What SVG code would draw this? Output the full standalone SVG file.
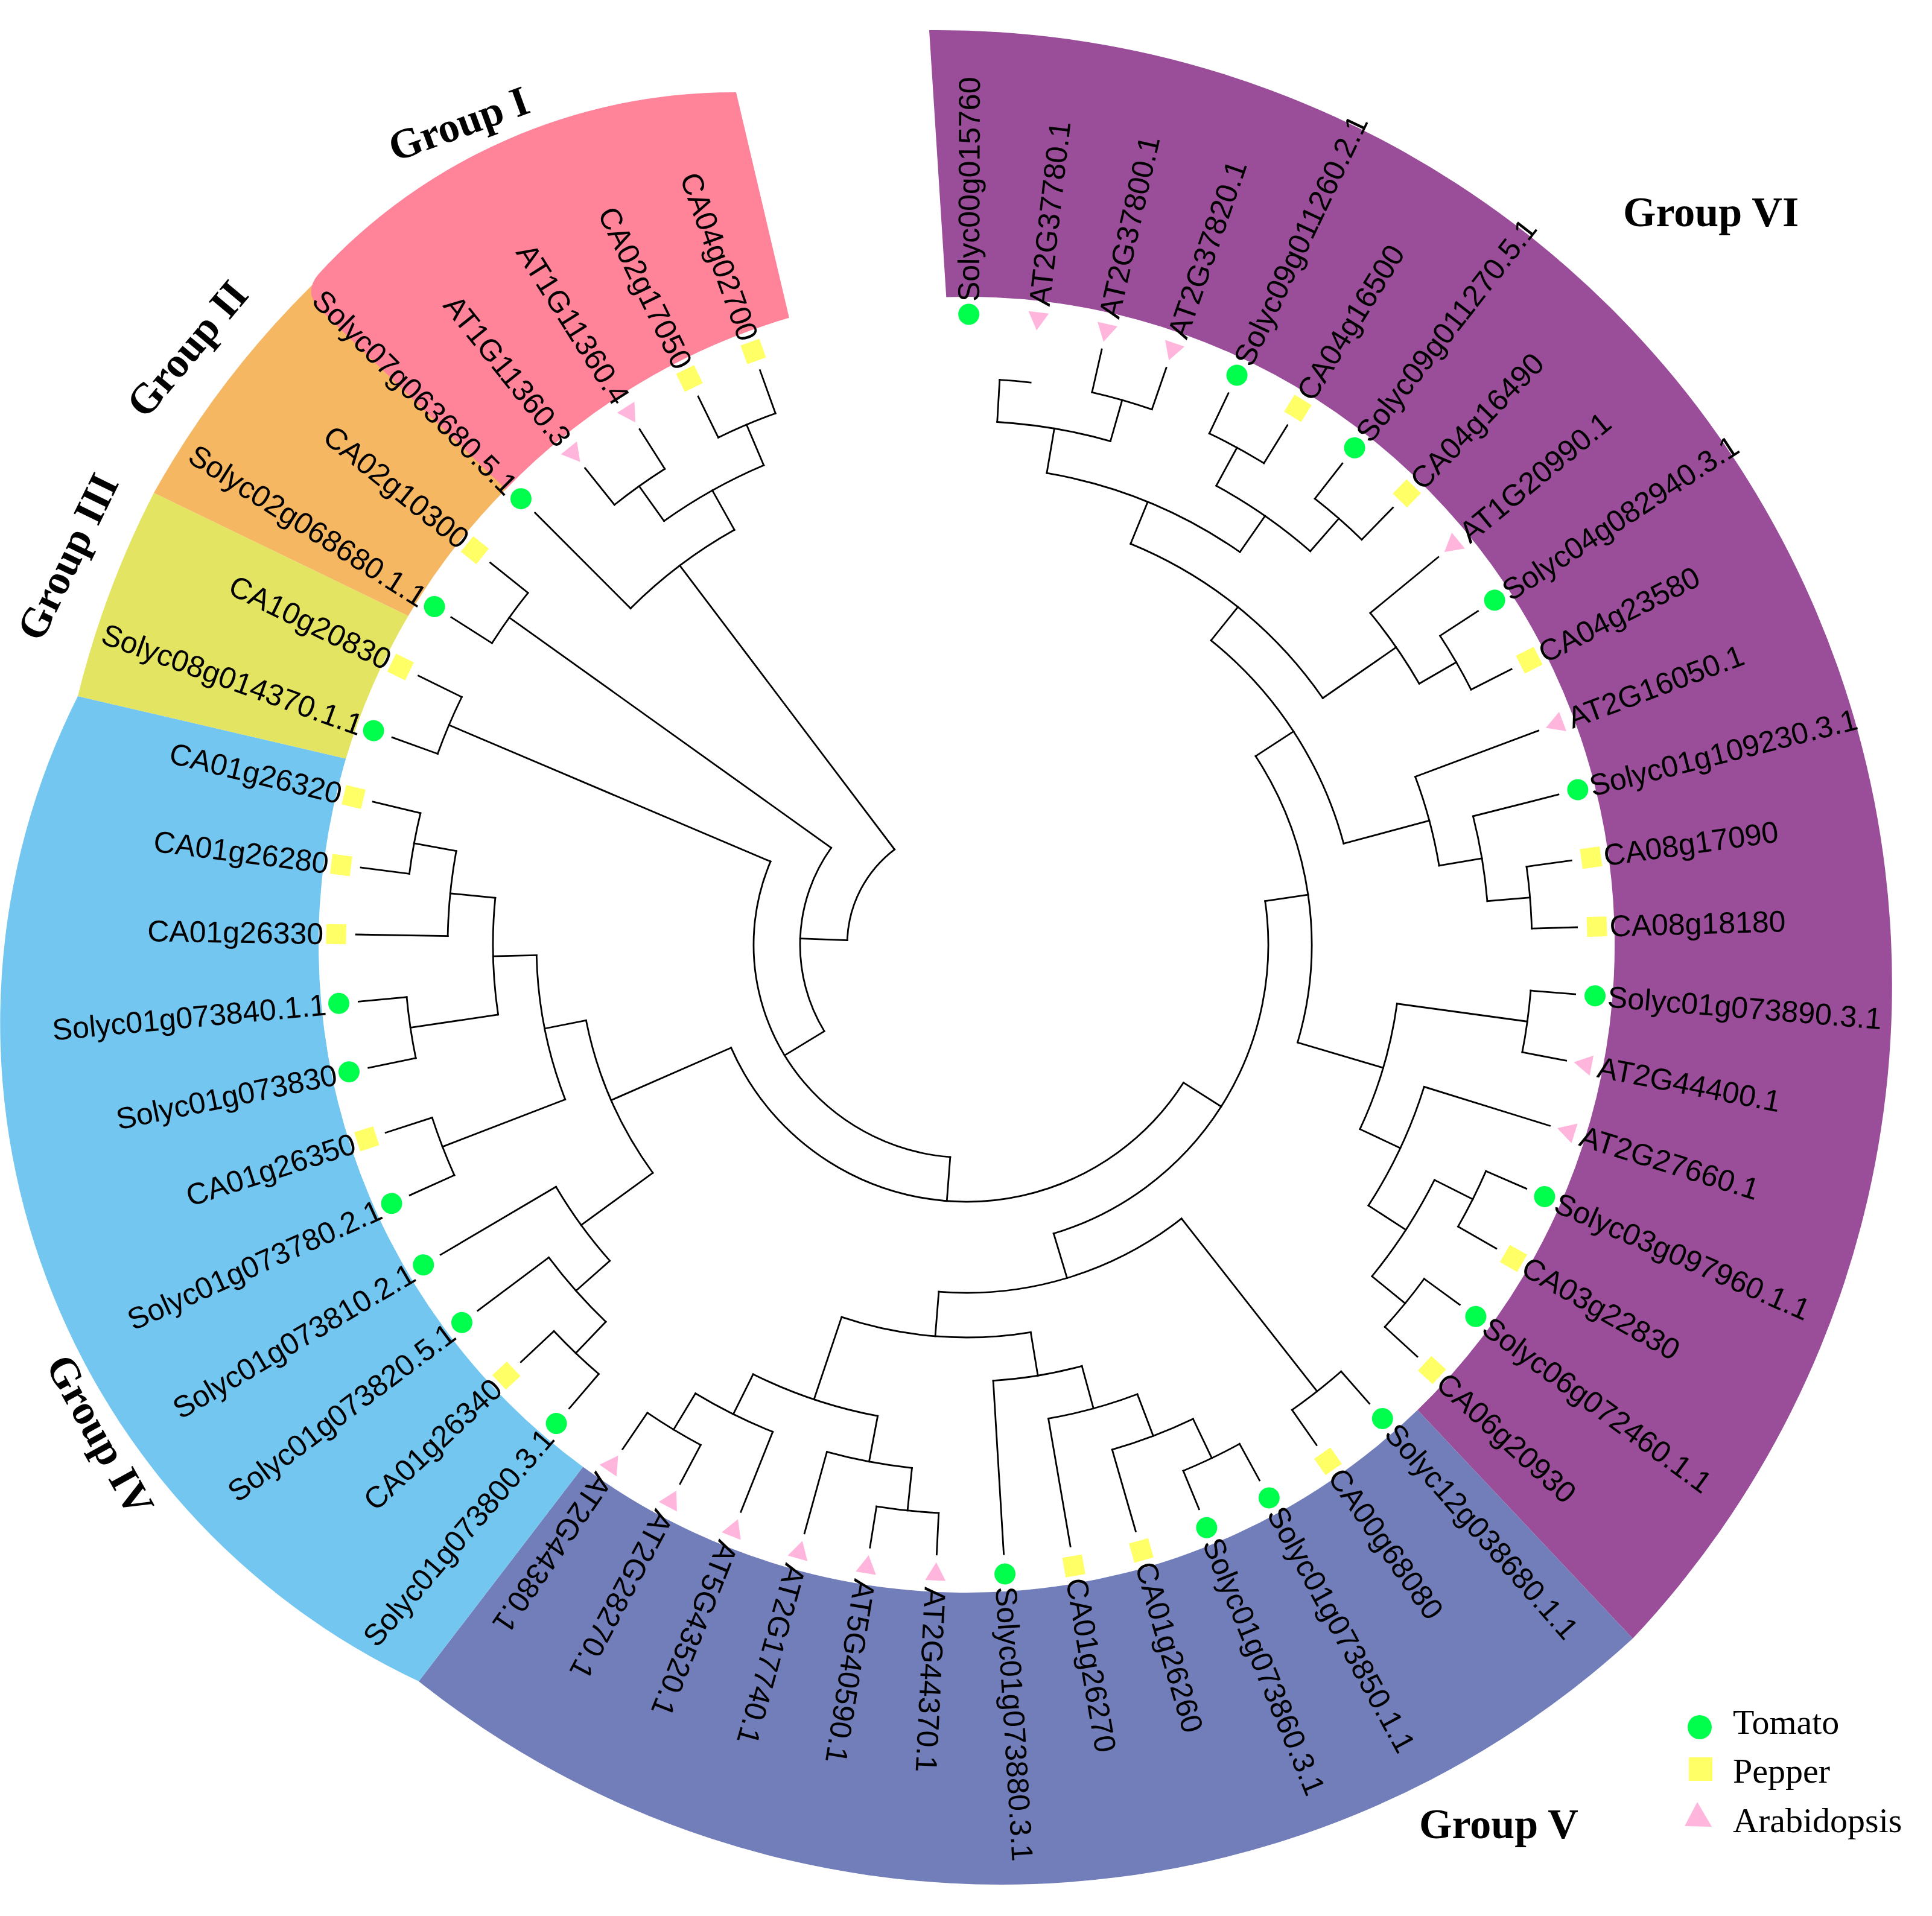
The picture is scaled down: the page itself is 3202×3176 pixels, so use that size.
<svg xmlns="http://www.w3.org/2000/svg" width="3202" height="3176" viewBox="0 0 3202 3176">
<style>
.lb{font-family:"Liberation Sans",Arial,sans-serif;font-size:50px;fill:#000;dominant-baseline:central}
.e{text-anchor:end}
.gl{font-family:"Liberation Serif","Times New Roman",serif;font-size:70px;font-weight:bold;fill:#000}
.lg{font-family:"Liberation Serif","Times New Roman",serif;font-size:58px;fill:#000}
#tree path,#tree circle{fill:none;stroke:#000;stroke-width:2.8;stroke-linecap:square}
</style>
<defs>
<circle id="T" r="17.5" fill="#00FF4C"/>
<rect id="P" x="-16.5" y="-16.5" width="33" height="33" fill="#FFFF66"/>
<path id="A" d="M0 20L-17 -10L17 -10Z" fill="#FFB5DC"/>
</defs>
<rect width="3202" height="3176" fill="#fff"/>
<g id="bands">
<path id="band-VI" fill="#9A4D99" d="M1540 50A1582 1582 0 0 1 2706 2716L2349.4 2337.3A1074 1074 0 0 0 1568.3 492.5Z"/>
<path id="band-V" fill="#717EBA" d="M2706 2716A1549 1549 0 0 1 694 2787L966.2 2431.6A1074 1074 0 0 0 2349.4 2337.3Z"/>
<path id="band-IV" fill="#73C6F0" d="M694 2787A1205 1205 0 0 1 129 1154L573.3 1257.4A1074 1074 0 0 0 966.2 2431.6Z"/>
<path id="band-III" fill="#E2E462" d="M129 1154A1535 1535 0 0 1 255 817L676.6 1020.9A1074 1074 0 0 0 573.3 1257.4Z"/>
<path id="band-II" fill="#F5B762" d="M255 817A1535 1535 0 0 1 520 470L838.2 811A1074 1074 0 0 0 676.6 1020.9Z"/>
<path id="band-I" fill="#FF8399" d="M838.2 811L530.7 512.9Q502 485 527.8 454.4A934 934 0 0 1 1220 153L1307.9 526.8A1077 1077 0 0 0 838.2 811Z"/>
</g>
<g id="tree">
<path d="M1602 627V554" transform="rotate(12.79 1602 1566)"/>
<path d="M1602 627V554" transform="rotate(19.09 1602 1566)"/>
<path d="M1602 698V627" transform="rotate(15.94 1602 1566)"/>
<path d="M1602 698V628" transform="rotate(3.35 1602 1566)"/>
<path d="M1602 773V698" transform="rotate(9.645 1602 1566)"/>
<path d="M1602 628V554" transform="rotate(25.39 1602 1566)"/>
<path d="M1602 628V554" transform="rotate(31.69 1602 1566)"/>
<path d="M1602 700V628" transform="rotate(28.54 1602 1566)"/>
<path d="M1602 628V554" transform="rotate(37.98 1602 1566)"/>
<path d="M1602 628V554" transform="rotate(44.28 1602 1566)"/>
<path d="M1602 700V628" transform="rotate(41.13 1602 1566)"/>
<path d="M1602 773V700" transform="rotate(34.835 1602 1566)"/>
<path d="M1602 848V773" transform="rotate(22.24 1602 1566)"/>
<path d="M1602 700V554" transform="rotate(50.58 1602 1566)"/>
<path d="M1602 629V554" transform="rotate(56.87 1602 1566)"/>
<path d="M1602 629V554" transform="rotate(63.17 1602 1566)"/>
<path d="M1602 700V629" transform="rotate(60.02 1602 1566)"/>
<path d="M1602 848V700" transform="rotate(55.3 1602 1566)"/>
<path d="M1602 919V848" transform="rotate(38.77 1602 1566)"/>
<path d="M1602 772V554" transform="rotate(69.47 1602 1566)"/>
<path d="M1602 700V554" transform="rotate(75.76 1602 1566)"/>
<path d="M1602 629V554" transform="rotate(82.06 1602 1566)"/>
<path d="M1602 629V554" transform="rotate(88.36 1602 1566)"/>
<path d="M1602 700V629" transform="rotate(85.21 1602 1566)"/>
<path d="M1602 772V700" transform="rotate(80.49 1602 1566)"/>
<path d="M1602 919V772" transform="rotate(74.98 1602 1566)"/>
<path d="M1602 994V919" transform="rotate(56.875 1602 1566)"/>
<path d="M1602 628V554" transform="rotate(94.65 1602 1566)"/>
<path d="M1602 628V554" transform="rotate(100.95 1602 1566)"/>
<path d="M1602 846V628" transform="rotate(97.8 1602 1566)"/>
<path d="M1602 772V554" transform="rotate(107.25 1602 1566)"/>
<path d="M1602 627V554" transform="rotate(113.55 1602 1566)"/>
<path d="M1602 627V554" transform="rotate(119.84 1602 1566)"/>
<path d="M1602 698V627" transform="rotate(116.695 1602 1566)"/>
<path d="M1602 627V554" transform="rotate(126.14 1602 1566)"/>
<path d="M1602 627V554" transform="rotate(132.43 1602 1566)"/>
<path d="M1602 698V627" transform="rotate(129.285 1602 1566)"/>
<path d="M1602 772V698" transform="rotate(122.99 1602 1566)"/>
<path d="M1602 846V772" transform="rotate(115.12 1602 1566)"/>
<path d="M1602 994V846" transform="rotate(106.46 1602 1566)"/>
<path d="M1602 1066V994" transform="rotate(81.67 1602 1566)"/>
<path d="M1602 625V554" transform="rotate(138.73 1602 1566)"/>
<path d="M1602 625V554" transform="rotate(145.03 1602 1566)"/>
<path d="M1602 989V625" transform="rotate(141.88 1602 1566)"/>
<path d="M1602 623V554" transform="rotate(151.33 1602 1566)"/>
<path d="M1602 623V554" transform="rotate(157.62 1602 1566)"/>
<path d="M1602 695V623" transform="rotate(154.475 1602 1566)"/>
<path d="M1602 695V554" transform="rotate(163.92 1602 1566)"/>
<path d="M1602 769V695" transform="rotate(159.2 1602 1566)"/>
<path d="M1602 769V554" transform="rotate(170.21 1602 1566)"/>
<path d="M1602 842V769" transform="rotate(164.7 1602 1566)"/>
<path d="M1602 842V554" transform="rotate(176.51 1602 1566)"/>
<path d="M1602 915V842" transform="rotate(170.61 1602 1566)"/>
<path d="M1602 623V554" transform="rotate(182.81 1602 1566)"/>
<path d="M1602 623V554" transform="rotate(189.11 1602 1566)"/>
<path d="M1602 694V623" transform="rotate(185.96 1602 1566)"/>
<path d="M1602 694V554" transform="rotate(195.4 1602 1566)"/>
<path d="M1602 771V694" transform="rotate(190.68 1602 1566)"/>
<path d="M1602 697V554" transform="rotate(201.7 1602 1566)"/>
<path d="M1602 627V554" transform="rotate(207.99 1602 1566)"/>
<path d="M1602 627V554" transform="rotate(214.29 1602 1566)"/>
<path d="M1602 697V627" transform="rotate(211.14 1602 1566)"/>
<path d="M1602 771V697" transform="rotate(206.42 1602 1566)"/>
<path d="M1602 915V771" transform="rotate(198.55 1602 1566)"/>
<path d="M1602 989V915" transform="rotate(184.58 1602 1566)"/>
<path d="M1602 1066V989" transform="rotate(163.23 1602 1566)"/>
<path d="M1602 1140V1066" transform="rotate(122.45 1602 1566)"/>
<path d="M1602 629V554" transform="rotate(220.59 1602 1566)"/>
<path d="M1602 629V554" transform="rotate(226.88 1602 1566)"/>
<path d="M1602 701V629" transform="rotate(223.735 1602 1566)"/>
<path d="M1602 701V554" transform="rotate(233.18 1602 1566)"/>
<path d="M1602 776V701" transform="rotate(228.46 1602 1566)"/>
<path d="M1602 776V554" transform="rotate(239.48 1602 1566)"/>
<path d="M1602 923V776" transform="rotate(233.97 1602 1566)"/>
<path d="M1602 635V554" transform="rotate(245.77 1602 1566)"/>
<path d="M1602 635V554" transform="rotate(252.07 1602 1566)"/>
<path d="M1602 853V635" transform="rotate(248.92 1602 1566)"/>
<path d="M1602 634V554" transform="rotate(258.37 1602 1566)"/>
<path d="M1602 634V554" transform="rotate(264.66 1602 1566)"/>
<path d="M1602 781V634" transform="rotate(261.515 1602 1566)"/>
<path d="M1602 706V554" transform="rotate(270.96 1602 1566)"/>
<path d="M1602 635V554" transform="rotate(277.26 1602 1566)"/>
<path d="M1602 635V554" transform="rotate(283.55 1602 1566)"/>
<path d="M1602 706V635" transform="rotate(280.405 1602 1566)"/>
<path d="M1602 781V706" transform="rotate(275.68 1602 1566)"/>
<path d="M1602 853V781" transform="rotate(268.6 1602 1566)"/>
<path d="M1602 923V853" transform="rotate(258.76 1602 1566)"/>
<path d="M1602 1140V923" transform="rotate(246.37 1602 1566)"/>
<path d="M1602 1213V1140" transform="rotate(184.41 1602 1566)"/>
<path d="M1602 634V554" transform="rotate(289.85 1602 1566)"/>
<path d="M1602 634V554" transform="rotate(296.14 1602 1566)"/>
<path d="M1602 1213V634" transform="rotate(293 1602 1566)"/>
<path d="M1602 1290V1213" transform="rotate(238.7 1602 1566)"/>
<path d="M1602 634V554" transform="rotate(302.44 1602 1566)"/>
<path d="M1602 634V554" transform="rotate(308.74 1602 1566)"/>
<path d="M1602 1290V634" transform="rotate(305.59 1602 1566)"/>
<path d="M1602 1368V1290" transform="rotate(272.15 1602 1566)"/>
<path d="M1602 632V554" transform="rotate(321.33 1602 1566)"/>
<path d="M1602 632V554" transform="rotate(327.62 1602 1566)"/>
<path d="M1602 703V632" transform="rotate(324.475 1602 1566)"/>
<path d="M1602 630V554" transform="rotate(333.92 1602 1566)"/>
<path d="M1602 630V554" transform="rotate(340.22 1602 1566)"/>
<path d="M1602 703V630" transform="rotate(337.07 1602 1566)"/>
<path d="M1602 778V703" transform="rotate(330.77 1602 1566)"/>
<path d="M1602 778V554" transform="rotate(315.03 1602 1566)"/>
<path d="M1602 1368V778" transform="rotate(322.9 1602 1566)"/>
<circle cx="1602" cy="1566" r="938" stroke-dasharray="51.57 9999" transform="rotate(-86.65 1602 1566)"/>
<circle cx="1602" cy="1566" r="939" stroke-dasharray="103.25 9999" transform="rotate(-77.21 1602 1566)"/>
<circle cx="1602" cy="1566" r="868" stroke-dasharray="190.73 9999" transform="rotate(-86.65 1602 1566)"/>
<circle cx="1602" cy="1566" r="938" stroke-dasharray="103.14 9999" transform="rotate(-64.61 1602 1566)"/>
<circle cx="1602" cy="1566" r="938" stroke-dasharray="103.14 9999" transform="rotate(-52.02 1602 1566)"/>
<circle cx="1602" cy="1566" r="866" stroke-dasharray="190.29 9999" transform="rotate(-61.46 1602 1566)"/>
<circle cx="1602" cy="1566" r="793" stroke-dasharray="348.65 9999" transform="rotate(-80.355 1602 1566)"/>
<circle cx="1602" cy="1566" r="937" stroke-dasharray="103.03 9999" transform="rotate(-33.13 1602 1566)"/>
<circle cx="1602" cy="1566" r="866" stroke-dasharray="142.68 9999" transform="rotate(-39.42 1602 1566)"/>
<circle cx="1602" cy="1566" r="718" stroke-dasharray="414.29 9999" transform="rotate(-67.76 1602 1566)"/>
<circle cx="1602" cy="1566" r="937" stroke-dasharray="103.03 9999" transform="rotate(-7.94 1602 1566)"/>
<circle cx="1602" cy="1566" r="866" stroke-dasharray="142.83 9999" transform="rotate(-14.24 1602 1566)"/>
<circle cx="1602" cy="1566" r="794" stroke-dasharray="152.71 9999" transform="rotate(-20.53 1602 1566)"/>
<circle cx="1602" cy="1566" r="647" stroke-dasharray="408.84 9999" transform="rotate(-51.23 1602 1566)"/>
<circle cx="1602" cy="1566" r="938" stroke-dasharray="103.14 9999" transform="rotate(4.65 1602 1566)"/>
<circle cx="1602" cy="1566" r="939" stroke-dasharray="103.08 9999" transform="rotate(23.55 1602 1566)"/>
<circle cx="1602" cy="1566" r="939" stroke-dasharray="103.08 9999" transform="rotate(36.14 1602 1566)"/>
<circle cx="1602" cy="1566" r="868" stroke-dasharray="190.73 9999" transform="rotate(26.695 1602 1566)"/>
<circle cx="1602" cy="1566" r="794" stroke-dasharray="218.12 9999" transform="rotate(17.25 1602 1566)"/>
<circle cx="1602" cy="1566" r="720" stroke-dasharray="217.65 9999" transform="rotate(7.8 1602 1566)"/>
<circle cx="1602" cy="1566" r="572" stroke-dasharray="495.02 9999" transform="rotate(-33.125 1602 1566)"/>
<circle cx="1602" cy="1566" r="941" stroke-dasharray="103.47 9999" transform="rotate(48.73 1602 1566)"/>
<circle cx="1602" cy="1566" r="943" stroke-dasharray="103.52 9999" transform="rotate(61.33 1602 1566)"/>
<circle cx="1602" cy="1566" r="871" stroke-dasharray="143.58 9999" transform="rotate(64.475 1602 1566)"/>
<circle cx="1602" cy="1566" r="797" stroke-dasharray="153.15 9999" transform="rotate(69.2 1602 1566)"/>
<circle cx="1602" cy="1566" r="724" stroke-dasharray="149.23 9999" transform="rotate(74.7 1602 1566)"/>
<circle cx="1602" cy="1566" r="943" stroke-dasharray="103.69 9999" transform="rotate(92.81 1602 1566)"/>
<circle cx="1602" cy="1566" r="872" stroke-dasharray="143.67 9999" transform="rotate(95.96 1602 1566)"/>
<circle cx="1602" cy="1566" r="939" stroke-dasharray="103.25 9999" transform="rotate(117.99 1602 1566)"/>
<circle cx="1602" cy="1566" r="869" stroke-dasharray="143.18 9999" transform="rotate(111.7 1602 1566)"/>
<circle cx="1602" cy="1566" r="795" stroke-dasharray="218.4 9999" transform="rotate(100.68 1602 1566)"/>
<circle cx="1602" cy="1566" r="651" stroke-dasharray="317.46 9999" transform="rotate(80.61 1602 1566)"/>
<circle cx="1602" cy="1566" r="577" stroke-dasharray="430.01 9999" transform="rotate(51.88 1602 1566)"/>
<circle cx="1602" cy="1566" r="500" stroke-dasharray="711.75 9999" transform="rotate(-8.33 1602 1566)"/>
<circle cx="1602" cy="1566" r="937" stroke-dasharray="102.86 9999" transform="rotate(130.59 1602 1566)"/>
<circle cx="1602" cy="1566" r="865" stroke-dasharray="142.59 9999" transform="rotate(133.735 1602 1566)"/>
<circle cx="1602" cy="1566" r="790" stroke-dasharray="151.94 9999" transform="rotate(138.46 1602 1566)"/>
<circle cx="1602" cy="1566" r="931" stroke-dasharray="102.37 9999" transform="rotate(155.77 1602 1566)"/>
<circle cx="1602" cy="1566" r="932" stroke-dasharray="102.32 9999" transform="rotate(168.37 1602 1566)"/>
<circle cx="1602" cy="1566" r="931" stroke-dasharray="102.21 9999" transform="rotate(187.26 1602 1566)"/>
<circle cx="1602" cy="1566" r="860" stroke-dasharray="141.77 9999" transform="rotate(180.96 1602 1566)"/>
<circle cx="1602" cy="1566" r="785" stroke-dasharray="194.07 9999" transform="rotate(171.515 1602 1566)"/>
<circle cx="1602" cy="1566" r="713" stroke-dasharray="244.9 9999" transform="rotate(158.92 1602 1566)"/>
<circle cx="1602" cy="1566" r="643" stroke-dasharray="278.2 9999" transform="rotate(143.97 1602 1566)"/>
<circle cx="1602" cy="1566" r="426" stroke-dasharray="921.36 9999" transform="rotate(32.45 1602 1566)"/>
<circle cx="1602" cy="1566" r="932" stroke-dasharray="102.32 9999" transform="rotate(199.85 1602 1566)"/>
<circle cx="1602" cy="1566" r="353" stroke-dasharray="669.03 9999" transform="rotate(94.41 1602 1566)"/>
<circle cx="1602" cy="1566" r="932" stroke-dasharray="102.48 9999" transform="rotate(212.44 1602 1566)"/>
<circle cx="1602" cy="1566" r="276" stroke-dasharray="322.22 9999" transform="rotate(148.7 1602 1566)"/>
<circle cx="1602" cy="1566" r="934" stroke-dasharray="102.54 9999" transform="rotate(231.33 1602 1566)"/>
<circle cx="1602" cy="1566" r="936" stroke-dasharray="102.92 9999" transform="rotate(243.92 1602 1566)"/>
<circle cx="1602" cy="1566" r="863" stroke-dasharray="189.71 9999" transform="rotate(234.475 1602 1566)"/>
<circle cx="1602" cy="1566" r="788" stroke-dasharray="216.47 9999" transform="rotate(225.03 1602 1566)"/>
<circle cx="1602" cy="1566" r="198" stroke-dasharray="175.38 9999" transform="rotate(182.15 1602 1566)"/>
</g>
<g id="leaves">
<g id="Solyc00g015760"><use href="#T" x="1602" y="521" transform="rotate(0.2 1602 1566)"/><text class="lb" x="2668" y="1566" transform="rotate(-89.8 1602 1566)">Solyc00g015760</text></g>
<g id="AT2G37780_1"><use href="#A" x="1602" y="521" transform="rotate(6.5 1602 1566)"/><text class="lb" x="2668" y="1566" transform="rotate(-83.5 1602 1566)">AT2G37780.1</text></g>
<g id="AT2G37800_1"><use href="#A" x="1602" y="521" transform="rotate(12.79 1602 1566)"/><text class="lb" x="2668" y="1566" transform="rotate(-77.21 1602 1566)">AT2G37800.1</text></g>
<g id="AT2G37820_1"><use href="#A" x="1602" y="521" transform="rotate(19.09 1602 1566)"/><text class="lb" x="2668" y="1566" transform="rotate(-70.91 1602 1566)">AT2G37820.1</text></g>
<g id="Solyc09g011260_2_1"><use href="#T" x="1602" y="521" transform="rotate(25.39 1602 1566)"/><text class="lb" x="2668" y="1566" transform="rotate(-64.61 1602 1566)">Solyc09g011260.2.1</text></g>
<g id="CA04g16500"><use href="#P" x="1602" y="521" transform="rotate(31.69 1602 1566)"/><text class="lb" x="2668" y="1566" transform="rotate(-58.31 1602 1566)">CA04g16500</text></g>
<g id="Solyc09g011270_5_1"><use href="#T" x="1602" y="521" transform="rotate(37.98 1602 1566)"/><text class="lb" x="2668" y="1566" transform="rotate(-52.02 1602 1566)">Solyc09g011270.5.1</text></g>
<g id="CA04g16490"><use href="#P" x="1602" y="521" transform="rotate(44.28 1602 1566)"/><text class="lb" x="2668" y="1566" transform="rotate(-45.72 1602 1566)">CA04g16490</text></g>
<g id="AT1G20990_1"><use href="#A" x="1602" y="521" transform="rotate(50.58 1602 1566)"/><text class="lb" x="2668" y="1566" transform="rotate(-39.42 1602 1566)">AT1G20990.1</text></g>
<g id="Solyc04g082940_3_1"><use href="#T" x="1602" y="521" transform="rotate(56.87 1602 1566)"/><text class="lb" x="2668" y="1566" transform="rotate(-33.13 1602 1566)">Solyc04g082940.3.1</text></g>
<g id="CA04g23580"><use href="#P" x="1602" y="521" transform="rotate(63.17 1602 1566)"/><text class="lb" x="2668" y="1566" transform="rotate(-26.83 1602 1566)">CA04g23580</text></g>
<g id="AT2G16050_1"><use href="#A" x="1602" y="521" transform="rotate(69.47 1602 1566)"/><text class="lb" x="2668" y="1566" transform="rotate(-20.53 1602 1566)">AT2G16050.1</text></g>
<g id="Solyc01g109230_3_1"><use href="#T" x="1602" y="521" transform="rotate(75.76 1602 1566)"/><text class="lb" x="2668" y="1566" transform="rotate(-14.24 1602 1566)">Solyc01g109230.3.1</text></g>
<g id="CA08g17090"><use href="#P" x="1602" y="521" transform="rotate(82.06 1602 1566)"/><text class="lb" x="2668" y="1566" transform="rotate(-7.94 1602 1566)">CA08g17090</text></g>
<g id="CA08g18180"><use href="#P" x="1602" y="521" transform="rotate(88.36 1602 1566)"/><text class="lb" x="2668" y="1566" transform="rotate(-1.64 1602 1566)">CA08g18180</text></g>
<g id="Solyc01g073890_3_1"><use href="#T" x="1602" y="521" transform="rotate(94.65 1602 1566)"/><text class="lb" x="2668" y="1566" transform="rotate(4.65 1602 1566)">Solyc01g073890.3.1</text></g>
<g id="AT2G44400_1"><use href="#A" x="1602" y="521" transform="rotate(100.95 1602 1566)"/><text class="lb" x="2668" y="1566" transform="rotate(10.95 1602 1566)">AT2G44400.1</text></g>
<g id="AT2G27660_1"><use href="#A" x="1602" y="521" transform="rotate(107.25 1602 1566)"/><text class="lb" x="2668" y="1566" transform="rotate(17.25 1602 1566)">AT2G27660.1</text></g>
<g id="Solyc03g097960_1_1"><use href="#T" x="1602" y="521" transform="rotate(113.55 1602 1566)"/><text class="lb" x="2668" y="1566" transform="rotate(23.55 1602 1566)">Solyc03g097960.1.1</text></g>
<g id="CA03g22830"><use href="#P" x="1602" y="521" transform="rotate(119.84 1602 1566)"/><text class="lb" x="2668" y="1566" transform="rotate(29.84 1602 1566)">CA03g22830</text></g>
<g id="Solyc06g072460_1_1"><use href="#T" x="1602" y="521" transform="rotate(126.14 1602 1566)"/><text class="lb" x="2668" y="1566" transform="rotate(36.14 1602 1566)">Solyc06g072460.1.1</text></g>
<g id="CA06g20930"><use href="#P" x="1602" y="521" transform="rotate(132.43 1602 1566)"/><text class="lb" x="2668" y="1566" transform="rotate(42.43 1602 1566)">CA06g20930</text></g>
<g id="Solyc12g038680_1_1"><use href="#T" x="1602" y="521" transform="rotate(138.73 1602 1566)"/><text class="lb" x="2668" y="1566" transform="rotate(48.73 1602 1566)">Solyc12g038680.1.1</text></g>
<g id="CA00g68080"><use href="#P" x="1602" y="521" transform="rotate(145.03 1602 1566)"/><text class="lb" x="2668" y="1566" transform="rotate(55.03 1602 1566)">CA00g68080</text></g>
<g id="Solyc01g073850_1_1"><use href="#T" x="1602" y="521" transform="rotate(151.33 1602 1566)"/><text class="lb" x="2668" y="1566" transform="rotate(61.33 1602 1566)">Solyc01g073850.1.1</text></g>
<g id="Solyc01g073860_3_1"><use href="#T" x="1602" y="521" transform="rotate(157.62 1602 1566)"/><text class="lb" x="2668" y="1566" transform="rotate(67.62 1602 1566)">Solyc01g073860.3.1</text></g>
<g id="CA01g26260"><use href="#P" x="1602" y="521" transform="rotate(163.92 1602 1566)"/><text class="lb" x="2668" y="1566" transform="rotate(73.92 1602 1566)">CA01g26260</text></g>
<g id="CA01g26270"><use href="#P" x="1602" y="521" transform="rotate(170.21 1602 1566)"/><text class="lb" x="2668" y="1566" transform="rotate(80.21 1602 1566)">CA01g26270</text></g>
<g id="Solyc01g073880_3_1"><use href="#T" x="1602" y="521" transform="rotate(176.51 1602 1566)"/><text class="lb" x="2668" y="1566" transform="rotate(86.51 1602 1566)">Solyc01g073880.3.1</text></g>
<g id="AT2G44370_1"><use href="#A" x="1602" y="521" transform="rotate(182.81 1602 1566)"/><text class="lb" x="2668" y="1566" transform="rotate(92.81 1602 1566)">AT2G44370.1</text></g>
<g id="AT5G40590_1"><use href="#A" x="1602" y="521" transform="rotate(189.11 1602 1566)"/><text class="lb" x="2668" y="1566" transform="rotate(99.11 1602 1566)">AT5G40590.1</text></g>
<g id="AT2G17740_1"><use href="#A" x="1602" y="521" transform="rotate(195.4 1602 1566)"/><text class="lb" x="2668" y="1566" transform="rotate(105.4 1602 1566)">AT2G17740.1</text></g>
<g id="AT5G43520_1"><use href="#A" x="1602" y="521" transform="rotate(201.7 1602 1566)"/><text class="lb" x="2668" y="1566" transform="rotate(111.7 1602 1566)">AT5G43520.1</text></g>
<g id="AT2G28270_1"><use href="#A" x="1602" y="521" transform="rotate(207.99 1602 1566)"/><text class="lb" x="2668" y="1566" transform="rotate(117.99 1602 1566)">AT2G28270.1</text></g>
<g id="AT2G44380_1"><use href="#A" x="1602" y="521" transform="rotate(214.29 1602 1566)"/><text class="lb" x="2668" y="1566" transform="rotate(124.29 1602 1566)">AT2G44380.1</text></g>
<g id="Solyc01g073800_3_1"><use href="#T" x="1602" y="521" transform="rotate(220.59 1602 1566)"/><text class="lb e" x="536" y="1566" transform="rotate(310.59 1602 1566)">Solyc01g073800.3.1</text></g>
<g id="CA01g26340"><use href="#P" x="1602" y="521" transform="rotate(226.88 1602 1566)"/><text class="lb e" x="536" y="1566" transform="rotate(316.88 1602 1566)">CA01g26340</text></g>
<g id="Solyc01g073820_5_1"><use href="#T" x="1602" y="521" transform="rotate(233.18 1602 1566)"/><text class="lb e" x="536" y="1566" transform="rotate(323.18 1602 1566)">Solyc01g073820.5.1</text></g>
<g id="Solyc01g073810_2_1"><use href="#T" x="1602" y="521" transform="rotate(239.48 1602 1566)"/><text class="lb e" x="536" y="1566" transform="rotate(329.48 1602 1566)">Solyc01g073810.2.1</text></g>
<g id="Solyc01g073780_2_1"><use href="#T" x="1602" y="521" transform="rotate(245.77 1602 1566)"/><text class="lb e" x="536" y="1566" transform="rotate(335.77 1602 1566)">Solyc01g073780.2.1</text></g>
<g id="CA01g26350"><use href="#P" x="1602" y="521" transform="rotate(252.07 1602 1566)"/><text class="lb e" x="536" y="1566" transform="rotate(342.07 1602 1566)">CA01g26350</text></g>
<g id="Solyc01g073830"><use href="#T" x="1602" y="521" transform="rotate(258.37 1602 1566)"/><text class="lb e" x="536" y="1566" transform="rotate(348.37 1602 1566)">Solyc01g073830</text></g>
<g id="Solyc01g073840_1_1"><use href="#T" x="1602" y="521" transform="rotate(264.66 1602 1566)"/><text class="lb e" x="536" y="1566" transform="rotate(354.66 1602 1566)">Solyc01g073840.1.1</text></g>
<g id="CA01g26330"><use href="#P" x="1602" y="521" transform="rotate(270.96 1602 1566)"/><text class="lb e" x="536" y="1566" transform="rotate(0.96 1602 1566)">CA01g26330</text></g>
<g id="CA01g26280"><use href="#P" x="1602" y="521" transform="rotate(277.26 1602 1566)"/><text class="lb e" x="536" y="1566" transform="rotate(7.26 1602 1566)">CA01g26280</text></g>
<g id="CA01g26320"><use href="#P" x="1602" y="521" transform="rotate(283.55 1602 1566)"/><text class="lb e" x="536" y="1566" transform="rotate(13.55 1602 1566)">CA01g26320</text></g>
<g id="Solyc08g014370_1_1"><use href="#T" x="1602" y="521" transform="rotate(289.85 1602 1566)"/><text class="lb e" x="536" y="1566" transform="rotate(19.85 1602 1566)">Solyc08g014370.1.1</text></g>
<g id="CA10g20830"><use href="#P" x="1602" y="521" transform="rotate(296.14 1602 1566)"/><text class="lb e" x="536" y="1566" transform="rotate(26.14 1602 1566)">CA10g20830</text></g>
<g id="Solyc02g068680_1_1"><use href="#T" x="1602" y="521" transform="rotate(302.44 1602 1566)"/><text class="lb e" x="536" y="1566" transform="rotate(32.44 1602 1566)">Solyc02g068680.1.1</text></g>
<g id="CA02g10300"><use href="#P" x="1602" y="521" transform="rotate(308.74 1602 1566)"/><text class="lb e" x="536" y="1566" transform="rotate(38.74 1602 1566)">CA02g10300</text></g>
<g id="Solyc07g063680_5_1"><use href="#T" x="1602" y="521" transform="rotate(315.03 1602 1566)"/><text class="lb e" x="536" y="1566" transform="rotate(45.03 1602 1566)">Solyc07g063680.5.1</text></g>
<g id="AT1G11360_3"><use href="#A" x="1602" y="521" transform="rotate(321.33 1602 1566)"/><text class="lb e" x="536" y="1566" transform="rotate(51.33 1602 1566)">AT1G11360.3</text></g>
<g id="AT1G11360_4"><use href="#A" x="1602" y="521" transform="rotate(327.62 1602 1566)"/><text class="lb e" x="536" y="1566" transform="rotate(57.62 1602 1566)">AT1G11360.4</text></g>
<g id="CA02g17050"><use href="#P" x="1602" y="521" transform="rotate(333.92 1602 1566)"/><text class="lb e" x="536" y="1566" transform="rotate(63.92 1602 1566)">CA02g17050</text></g>
<g id="CA04g02700"><use href="#P" x="1602" y="521" transform="rotate(340.22 1602 1566)"/><text class="lb e" x="536" y="1566" transform="rotate(70.22 1602 1566)">CA04g02700</text></g>
</g>
<g id="group-labels">
<text class="gl" x="760" y="205" text-anchor="middle" dominant-baseline="central" transform="rotate(-20 760 205)">Group I</text>
<text class="gl" x="310" y="578" text-anchor="middle" dominant-baseline="central" transform="rotate(-50 310 578)">Group II</text>
<text class="gl" x="112" y="923" text-anchor="middle" dominant-baseline="central" transform="rotate(-64 112 923)">Group III</text>
<text class="gl" x="166" y="2379" text-anchor="middle" dominant-baseline="central" transform="rotate(61 166 2379)">Group IV</text>
<text class="gl" x="2352" y="3047">Group V</text>
<text class="gl" x="2690" y="375">Group VI</text>
</g>
<g id="legend">
<circle cx="2817" cy="2863" r="20" fill="#00FF4C"/>
<rect x="2799" y="2913" width="39" height="39" fill="#FFFF66"/>
<path d="M2813 2987L2792 3027L2837 3028Z" fill="#FFB5DC"/>
<text class="lg" x="2872" y="2874">Tomato</text>
<text class="lg" x="2872" y="2955">Pepper</text>
<text class="lg" x="2872" y="3037">Arabidopsis</text>
</g>
</svg>
